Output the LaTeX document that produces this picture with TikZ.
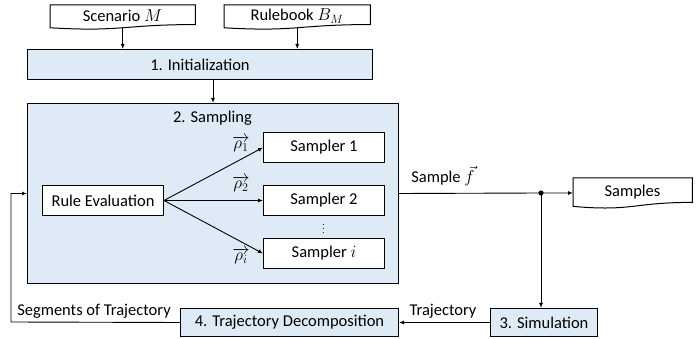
\documentclass[tikz,border=0pt]{standalone}
\usepackage{fontspec}
\setmainfont{Carlito}
\usetikzlibrary{calc,arrows.meta}
\definecolor{boxblue}{HTML}{DEEBF7}
\tikzset{
  x=1pt, y=-1pt,
  every node/.style={font=\fontsize{16.5}{19}\selectfont, inner sep=0pt},
  procbox/.style={draw, line width=1pt, fill=boxblue, anchor=north west},
  whitebox/.style={draw, line width=1pt, fill=white, anchor=north west},
  docarea/.style={anchor=north west},
  conn/.style={line width=0.9pt, -{Latex[length=5pt,width=4pt]}},
}
% document symbol: flat top, wavy bottom
\newcommand{\docoutline}[1]{%
  \draw[line width=1pt, fill=white]
    (#1.north west) -- (#1.north east)
    -- ($(#1.north east)!0.802!(#1.south east)$)
    .. controls ($(#1.north)!0.802!(#1.south)$) and ($(#1.north)!1.107!(#1.south)$)
    .. ($(#1.north west)!0.934!(#1.south west)$) -- cycle;}
\begin{document}
\begin{tikzpicture}
\useasboundingbox (0,0) rectangle (697,339);

% inputs
\node[docarea, minimum width=145pt, minimum height=24pt] (scen) at (50,5) {};
\docoutline{scen}
\node at (122.5,16) {Scenario $M$};
\node[docarea, minimum width=146pt, minimum height=24pt] (rule) at (224,5) {};
\docoutline{rule}
\node at (297,16) {Rulebook $B_M$};
\coordinate (scenout) at ($(scen.north)!0.933!(scen.south)$);
\coordinate (ruleout) at ($(rule.north)!0.933!(rule.south)$);

% stage 1
\node[procbox, minimum width=345pt, minimum height=30pt] (init) at (27,49) {};
\node at (init.center) {1. Initialization};

% stage 2
\node[procbox, minimum width=371pt, minimum height=180pt] (samp) at (27,103) {};
\node at (212.5,118) {2. Sampling};
\node[whitebox, minimum width=121pt, minimum height=30pt] (re) at (42,185) {};
\node at (re.center) {Rule Evaluation};
\node[whitebox, minimum width=121pt, minimum height=30pt] (s1) at (263,132) {};
\node at (s1.center) {Sampler 1};
\node[whitebox, minimum width=121pt, minimum height=30pt] (s2) at (263,185) {};
\node at (s2.center) {Sampler 2};
\node[whitebox, minimum width=121pt, minimum height=30pt] (si) at (263,238) {};
\node at (si.center) {Sampler $i$};
\node[font=\fontsize{9}{10}\selectfont] (vd) at (323.5,226.5) {$\vdots$};

% output document
\node[docarea, minimum width=119pt, minimum height=30pt] (out) at (573,178) {};
\docoutline{out}
\node at (632.5,192) {Samples};

% stages 3 and 4
\node[procbox, minimum width=107pt, minimum height=28pt] (sim) at (490,308) {};
\node at (sim.center) {3. Simulation};
\node[procbox, minimum width=218pt, minimum height=28pt] (td) at (180,308) {};
\node at (td.center) {4. Trajectory Decomposition};

% connectors
\draw[conn] (scenout) -- (scenout |- init.north);
\draw[conn] (ruleout) -- (ruleout |- init.north);
\draw[conn] (213,79) coordinate (i2s) -- (i2s |- samp.north);

\draw[conn] (re.east) -- (s1.west);
\draw[conn] (re.east) -- (s2.west);
\draw[conn] (re.east) -- (si.west);
\node (r1) at (241,144) {$\overrightarrow{\rho_1}$};
\node (r2) at (241,184) {$\overrightarrow{\rho_2}$};
\node (ri) at (241,256) {$\overrightarrow{\rho_i}$};

\coordinate (split) at (541,193);
\draw[conn] (samp.east) -- (split) -- (out.west |- split);
\fill (split) circle (2.6pt);
\node (flab) at (443,176) {Sample $\vec{f}$};

\draw[conn] (split) -- (split |- sim.north);
\draw[conn] (sim.west) -- (td.east);
\node (tlab) at (443,311) {Trajectory};

\coordinate (fb) at (11,322);
\draw[conn] (td.west) -- (fb) -- (fb |- samp.west) -- (samp.west);
\node (slab) at (94,311) {Segments of Trajectory};
\end{tikzpicture}
\end{document}
